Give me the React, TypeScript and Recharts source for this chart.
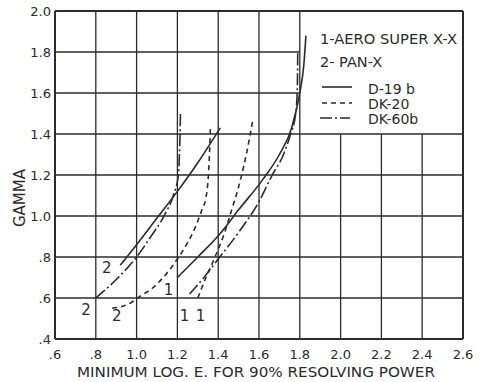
import { LineChart, Line, XAxis, YAxis, ReferenceLine, ReferenceDot, Legend } from 'recharts';

// axis ticks
const xTicks = [0.6, 0.8, 1.0, 1.2, 1.4, 1.6, 1.8, 2.0, 2.2, 2.4, 2.6];
const yTicks = [0.4, 0.6, 0.8, 1.0, 1.2, 1.4, 1.6, 1.8, 2.0];

// 1 - Aero Super X-X
const film1D19 = [
    { x: 1.2, y: 0.7 }, { x: 1.3, y: 0.8 }, { x: 1.41, y: 0.915 }, { x: 1.5, y: 1.03 },
    { x: 1.62, y: 1.18 }, { x: 1.7, y: 1.3 }, { x: 1.76, y: 1.43 }, { x: 1.8, y: 1.6 },
    { x: 1.82, y: 1.74 }, { x: 1.83, y: 1.88 },
];
const film1DK20 = [
    { x: 1.3, y: 0.6 }, { x: 1.34, y: 0.7 }, { x: 1.38, y: 0.79 }, { x: 1.43, y: 0.915 },
    { x: 1.46, y: 1.01 }, { x: 1.51, y: 1.18 }, { x: 1.54, y: 1.31 }, { x: 1.57, y: 1.47 },
];
const film1DK60 = [
    { x: 1.26, y: 0.62 }, { x: 1.33, y: 0.7 }, { x: 1.4, y: 0.79 }, { x: 1.5, y: 0.92 },
    { x: 1.6, y: 1.07 }, { x: 1.665, y: 1.2 }, { x: 1.72, y: 1.3 }, { x: 1.755, y: 1.4 },
    { x: 1.78, y: 1.5 }, { x: 1.787, y: 1.6 }, { x: 1.789, y: 1.7 }, { x: 1.79, y: 1.81 },
];

// 2 - Pan-X
const film2D19 = [
    { x: 0.92, y: 0.76 }, { x: 1.0, y: 0.86 }, { x: 1.1, y: 0.99 }, { x: 1.2, y: 1.12 },
    { x: 1.3, y: 1.26 }, { x: 1.41, y: 1.43 },
];
const film2DK20 = [
    { x: 0.88, y: 0.55 }, { x: 0.96, y: 0.57 }, { x: 1.02, y: 0.61 }, { x: 1.08, y: 0.65 },
    { x: 1.13, y: 0.7 }, { x: 1.2, y: 0.79 }, { x: 1.25, y: 0.87 }, { x: 1.29, y: 0.95 },
    { x: 1.32, y: 1.03 }, { x: 1.34, y: 1.09 }, { x: 1.352, y: 1.2 }, { x: 1.358, y: 1.32 },
    { x: 1.362, y: 1.43 },
];
const film2DK60 = [
    { x: 0.8, y: 0.6 }, { x: 0.9, y: 0.69 }, { x: 1.0, y: 0.8 }, { x: 1.07, y: 0.9 },
    { x: 1.14, y: 1.01 }, { x: 1.18, y: 1.1 }, { x: 1.205, y: 1.2 }, { x: 1.21, y: 1.3 },
    { x: 1.213, y: 1.4 }, { x: 1.215, y: 1.5 },
];

// film numbers written next to the curves
const curveLabels = [
    { x: 0.752, y: 0.541, text: '2' },
    { x: 0.903, y: 0.512, text: '2' },
    { x: 0.854, y: 0.745, text: '2' },
    { x: 1.157, y: 0.639, text: '1' },
    { x: 1.235, y: 0.512, text: '1' },
    { x: 1.313, y: 0.512, text: '1' },
];

// grid is blank where the legend sits (x >= 1.8, y >= 1.4)
const legendCorner = { x: 1.8, y: 1.4 };

const INK = '#2b2b2b';
const FONT = '"DejaVu Sans", sans-serif';
const DASHED = '5 4';
const DASH_DOT = '12 3 2 3';

const series = [
    { name: '1 D-19b', data: film1D19, dash: undefined },
    { name: '1 DK-20', data: film1DK20, dash: DASHED },
    { name: '1 DK-60b', data: film1DK60, dash: DASH_DOT },
    { name: '2 D-19b', data: film2D19, dash: undefined },
    { name: '2 DK-20', data: film2DK20, dash: DASHED },
    { name: '2 DK-60b', data: film2DK60, dash: DASH_DOT },
];

const fmt = (v: number) => {
    const s = v.toFixed(1);
    return s.startsWith('0') ? s.slice(1) : s;
};

const xMin = xTicks[0], xMax = xTicks[xTicks.length - 1];
const yMin = yTicks[0], yMax = yTicks[yTicks.length - 1];

const gridSegments = [
    ...xTicks.map(x => ({
        seg: [{ x, y: yMin }, { x, y: x > legendCorner.x && x < xMax ? legendCorner.y : yMax }],
        edge: x === xMin || x === xMax,
    })),
    ...yTicks.map(y => ({
        seg: [{ x: xMin, y }, { x: y > legendCorner.y && y < yMax ? legendCorner.x : xMax, y }],
        edge: y === yMin || y === yMax,
    })),
];

const renderLegend = () => (
    <svg width={150} height={100} style={{ display: 'block' }}>
        <g fontFamily={FONT} fill={INK} fontSize={14.5}>
            <text x={2} y={11} dominantBaseline="central" textLength={137} lengthAdjust="spacingAndGlyphs">1-AERO SUPER X-X</text>
            <text x={2} y={33.5} dominantBaseline="central">2- PAN-X</text>
        </g>
        <line x1={4} x2={34} y1={59} y2={59} stroke={INK} strokeWidth={1.6} />
        <line x1={4} x2={34} y1={75} y2={75} stroke={INK} strokeWidth={1.6} strokeDasharray={DASHED} />
        <line x1={2} x2={32} y1={90} y2={90} stroke={INK} strokeWidth={1.6} strokeDasharray={DASH_DOT} />
        <g fontFamily={FONT} fill={INK} fontSize={14}>
            <text x={50} y={61} dominantBaseline="central">D-19 b</text>
            <text x={50} y={76} dominantBaseline="central">DK-20</text>
            <text x={50} y={90.5} dominantBaseline="central">DK-60b</text>
        </g>
    </svg>
);

export default function App() {
    return (
        <div style={{ position: 'absolute', left: 0, top: 0, width: 481, height: 382, background: '#fff' }}>
            <LineChart width={481} height={382} margin={{ top: 11, right: 18, bottom: 13, left: 15 }}>
                <XAxis
                    type="number"
                    dataKey="x"
                    domain={[xMin, xMax]}
                    ticks={xTicks}
                    interval={0}
                    tickFormatter={fmt}
                    axisLine={false}
                    tickLine={false}
                    tickSize={0}
                    tickMargin={11}
                    height={30}
                    tick={{ fill: INK, fontSize: 13, fontFamily: FONT }}
                    label={{
                        content: () => (
                            <text x={256} y={372} textAnchor="middle" dominantBaseline="central" fill={INK}
                                fontFamily={FONT} fontSize={14.5} textLength={358} lengthAdjust="spacingAndGlyphs">
                                MINIMUM LOG. E. FOR 90% RESOLVING POWER
                            </text>
                        ),
                    }}
                />
                <YAxis
                    type="number"
                    dataKey="y"
                    domain={[yMin, yMax]}
                    ticks={yTicks}
                    interval={0}
                    tickFormatter={fmt}
                    axisLine={false}
                    tickLine={false}
                    tickSize={0}
                    tickMargin={4}
                    width={40}
                    tick={{ fill: INK, fontSize: 13, fontFamily: FONT }}
                    label={{
                        content: () => (
                            <text x={20} y={198} textAnchor="middle" dominantBaseline="central" fill={INK}
                                fontFamily={FONT} fontSize={15} transform="rotate(-90 20 198)">
                                GAMMA
                            </text>
                        ),
                    }}
                />
                {gridSegments.map((g, i) => (
                    <ReferenceLine key={i} segment={g.seg} stroke={INK} strokeWidth={g.edge ? 2 : 1.3} />
                ))}
                {series.map(s => (
                    <Line
                        key={s.name}
                        name={s.name}
                        data={s.data}
                        dataKey="y"
                        type="monotone"
                        stroke={INK}
                        strokeWidth={1.6}
                        strokeDasharray={s.dash}
                        dot={false}
                        activeDot={false}
                        isAnimationActive={false}
                    />
                ))}
                {curveLabels.map((l, i) => (
                    <ReferenceDot
                        key={i}
                        x={l.x}
                        y={l.y}
                        r={0}
                        shape={(p: any) => (
                            <text x={p.cx} y={p.cy} textAnchor="middle" dominantBaseline="central"
                                fill={INK} fontFamily={FONT} fontSize={15}>
                                {l.text}
                            </text>
                        )}
                    />
                ))}
                <Legend
                    layout="vertical"
                    align="center"
                    verticalAlign="middle"
                    content={renderLegend}
                    wrapperStyle={{ left: 318, top: 28, width: 150, height: 100 }}
                />
            </LineChart>
        </div>
    );
}
